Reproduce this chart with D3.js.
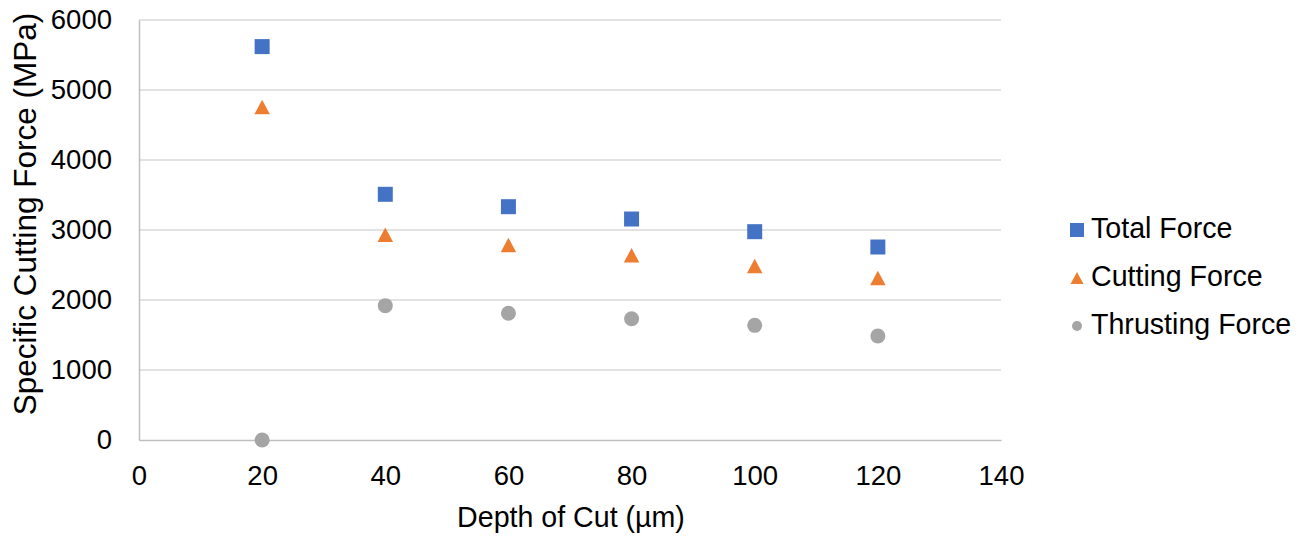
<!DOCTYPE html>
<html>
<head>
<meta charset="utf-8">
<script src="https://cdn.jsdelivr.net/npm/d3@7"></script>
<style>
  html, body { margin: 0; padding: 0; background: #ffffff; }
  svg { display: block; font-family: "Liberation Sans", Arial, sans-serif; }
</style>
</head>
<body>
<svg id="chart" width="1314" height="538"></svg>
<script>
// Depth of cut (µm) and specific cutting force (MPa) per component
const depths = [20, 40, 60, 80, 100, 120];
const totalForce = [5620, 3510, 3333, 3157, 2976, 2757];
const cuttingForce = [4757, 2933, 2786, 2639, 2486, 2314];
const thrustingForce = [0, 1919, 1810, 1733, 1638, 1486];
const seriesNames = ["Total Force", "Cutting Force", "Thrusting Force"];
const seriesColors = ["#4472c4", "#ed7d31", "#a5a5a5"];
const xTicks = [0, 20, 40, 60, 80, 100, 120, 140];
const yTicks = [0, 1000, 2000, 3000, 4000, 5000, 6000];

const svg = d3.select("#chart");
const margin = { left: 139, right: 1001, top: 20, bottom: 440 };
const tickFont = 27.5;
const labelFont = 28.6;
const yTitleFont = 31.5;

const x = d3.scaleLinear().domain([0, 140]).range([margin.left, margin.right]);
const y = d3.scaleLinear().domain([0, 6000]).range([margin.bottom, margin.top]);

// triangle centred on its bounding box; size is the side length
const boxTriangle = {
  draw(ctx, size) {
    const w = size, h = size * 0.94;
    ctx.moveTo(0, -h / 2);
    ctx.lineTo(w / 2, h / 2);
    ctx.lineTo(-w / 2, h / 2);
    ctx.closePath();
  }
};
// square and circle sized by side / diameter as well
const boxSquare = {
  draw(ctx, size) { ctx.rect(-size / 2, -size / 2, size, size); }
};
const boxCircle = {
  draw(ctx, size) { ctx.moveTo(size / 2, 0); ctx.arc(0, 0, size / 2, 0, 2 * Math.PI); }
};

// horizontal gridlines
svg.append("g")
  .selectAll("line")
  .data(yTicks.filter(d => d > 0))
  .join("line")
  .attr("x1", margin.left).attr("x2", margin.right)
  .attr("y1", d => y(d)).attr("y2", d => y(d))
  .attr("stroke", "#d9d9d9").attr("stroke-width", 1.5);

// axes
const xAxis = svg.append("g")
  .attr("transform", `translate(0,${margin.bottom})`)
  .call(d3.axisBottom(x).tickValues(xTicks).tickFormat(d3.format("d")).tickSize(0).tickPadding(25));
xAxis.select(".domain").attr("stroke", "#bfbfbf").attr("stroke-width", 1.5);
xAxis.selectAll("text").attr("font-size", tickFont).attr("fill", "#000")
  .attr("font-family", "Liberation Sans, Arial, sans-serif");

const yAxis = svg.append("g")
  .attr("transform", `translate(${margin.left},0)`)
  .call(d3.axisLeft(y).tickValues(yTicks).tickFormat(d3.format("d")).tickSize(0).tickPadding(27));
yAxis.select(".domain").attr("stroke", "#bfbfbf").attr("stroke-width", 1.5);
yAxis.selectAll("text").attr("font-size", tickFont).attr("fill", "#000")
  .attr("font-family", "Liberation Sans, Arial, sans-serif");

// axis titles
svg.append("text")
  .attr("x", 571).attr("y", 527)
  .attr("text-anchor", "middle").attr("font-size", labelFont).attr("fill", "#000")
  .text("Depth of Cut (µm)");

svg.append("text")
  .attr("transform", `translate(36,214) rotate(-90)`)
  .attr("text-anchor", "middle").attr("font-size", yTitleFont).attr("fill", "#000")
  .text("Specific Cutting Force (MPa)");

// markers
const symbols = [boxSquare, boxTriangle, boxCircle];
const markerSizes = [15, 15.5, 15];
const allSeries = [totalForce, cuttingForce, thrustingForce];

allSeries.forEach((vals, i) => {
  const gen = d3.symbol().type(symbols[i]).size(markerSizes[i]);
  svg.append("g")
    .selectAll("path")
    .data(depths.map((d, j) => ({ d, v: vals[j] })))
    .join("path")
    .attr("d", gen)
    .attr("transform", p => `translate(${x(p.d)},${y(p.v)})`)
    .attr("fill", seriesColors[i]);
});

// legend
const legend = svg.append("g");
const legendSizes = [14, 13, 10];
seriesNames.forEach((name, i) => {
  const cy = 230 + i * 48;
  legend.append("path")
    .attr("d", d3.symbol().type(symbols[i]).size(legendSizes[i])())
    .attr("transform", `translate(1077,${cy})`)
    .attr("fill", seriesColors[i]);
  legend.append("text")
    .attr("x", 1091).attr("y", cy + 8)
    .attr("font-size", labelFont).attr("fill", "#000")
    .text(name);
});
</script>
</body>
</html>
